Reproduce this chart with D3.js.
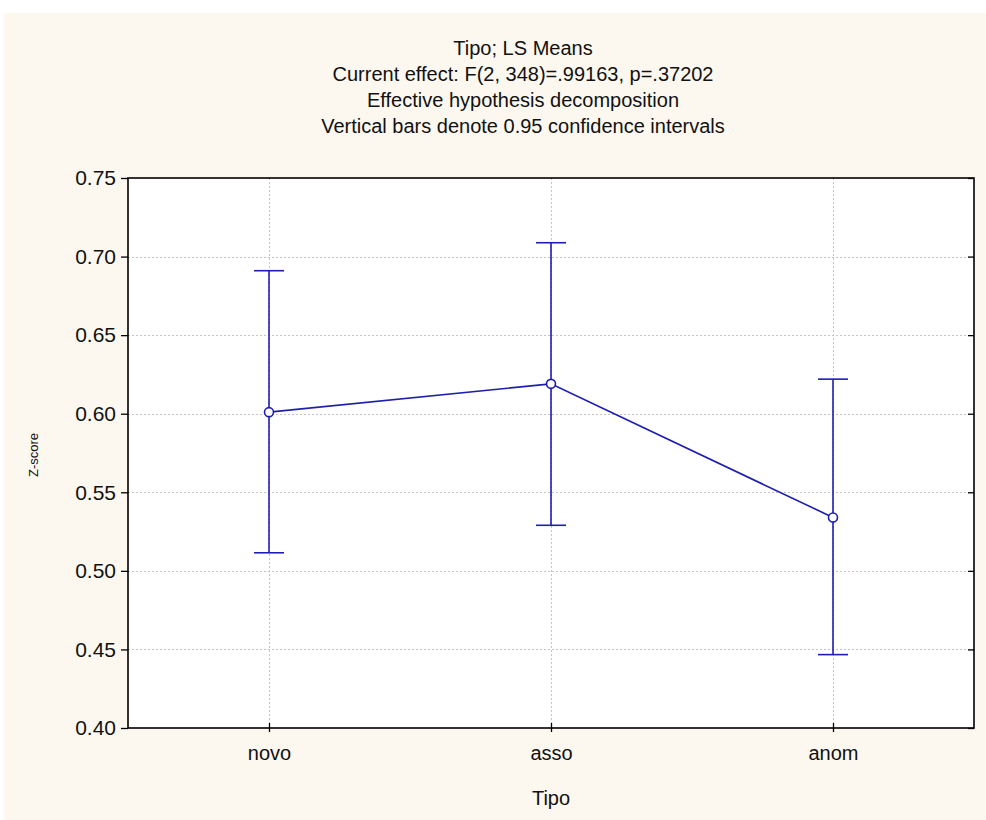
<!DOCTYPE html>
<html>
<head>
  <meta charset="utf-8">
  <script src="https://cdn.jsdelivr.net/npm/d3@7"></script>
  <style>
    body {margin:0; background:#fff;}
    text {font-family: Arial, "Liberation Sans", sans-serif; fill:#111;}
    .title text {font-size:20px;}
  </style>
</head>
<body>
<script>
const categories = ["novo", "asso", "anom"];
const means = [0.601, 0.619, 0.534];
const lower = [0.5115, 0.529, 0.4467];
const upper = [0.691, 0.7088, 0.622];
const yTicks = [0.40, 0.45, 0.50, 0.55, 0.60, 0.65, 0.70, 0.75];
const titleLines = [
  "Tipo; LS Means",
  "Current effect: F(2, 348)=.99163, p=.37202",
  "Effective hypothesis decomposition",
  "Vertical bars denote 0.95 confidence intervals"
];

const W = 986, H = 820;
const plot = {left: 128, right: 974, top: 178, bottom: 728};
const blue = "#1e1eb0";

const svg = d3.select("body").append("svg")
  .attr("width", W).attr("height", H);

svg.append("rect").attr("x", 4).attr("y", 13)
  .attr("width", W - 4).attr("height", H - 13)
  .attr("fill", "#fcf8f0");

const x = d3.scalePoint().domain(categories)
  .range([plot.left, plot.right]).padding(0.5);
const y = d3.scaleLinear().domain([0.40, 0.75])
  .range([plot.bottom, plot.top]);

svg.append("rect")
  .attr("x", plot.left).attr("y", plot.top)
  .attr("width", plot.right - plot.left).attr("height", plot.bottom - plot.top)
  .attr("fill", "#fff");

// title
svg.append("g").attr("class", "title").selectAll("text")
  .data(titleLines).join("text")
  .attr("x", 523).attr("y", (d, i) => 55 + i * 26)
  .attr("text-anchor", "middle")
  .text(d => d);

// grid
const grid = svg.append("g")
  .attr("stroke", "#c4c4c4").attr("stroke-dasharray", "2,2").attr("stroke-width", 1);
grid.selectAll("line.h").data(yTicks.slice(1, -1)).join("line")
  .attr("x1", plot.left).attr("x2", plot.right)
  .attr("y1", d => Math.round(y(d)) + 0.5).attr("y2", d => Math.round(y(d)) + 0.5);
grid.selectAll("line.v").data(categories).join("line")
  .attr("y1", plot.top).attr("y2", plot.bottom)
  .attr("x1", d => Math.round(x(d)) + 0.5).attr("x2", d => Math.round(x(d)) + 0.5);

// left axis
const yAxis = d3.axisLeft(y).tickValues(yTicks).tickFormat(d3.format(".2f"))
  .tickSize(7).tickPadding(5);
svg.append("g").attr("transform", `translate(${plot.left},0)`)
  .call(yAxis)
  .call(g => g.select(".domain").remove())
  .call(g => g.selectAll("line").attr("stroke", "#000").attr("stroke-width", 1.3))
  .call(g => g.selectAll("text").attr("font-size", 21).attr("fill", "#111"));

// right inward ticks
svg.append("g").attr("transform", `translate(${plot.right},0)`)
  .call(d3.axisLeft(y).tickValues(yTicks).tickSize(6).tickFormat(""))
  .call(g => g.select(".domain").remove())
  .call(g => g.selectAll("line").attr("stroke", "#000").attr("stroke-width", 1.3));

// bottom axis
svg.append("g").attr("transform", `translate(0,${plot.bottom})`)
  .call(d3.axisBottom(x).tickSize(4).tickPadding(14))
  .call(g => g.select(".domain").remove())
  .call(g => g.selectAll("line").attr("y1", -5).attr("stroke", "#000").attr("stroke-width", 1.3))
  .call(g => g.selectAll("text").attr("font-size", 20).attr("fill", "#111"));

// frame
svg.append("rect")
  .attr("x", plot.left).attr("y", plot.top)
  .attr("width", plot.right - plot.left).attr("height", plot.bottom - plot.top)
  .attr("fill", "none").attr("stroke", "#000").attr("stroke-width", 1.6);

// axis titles
svg.append("text").attr("x", (plot.left + plot.right) / 2).attr("y", 805)
  .attr("text-anchor", "middle").attr("font-size", 20).text("Tipo");
svg.append("text").attr("transform", "translate(38,455) rotate(-90)")
  .attr("text-anchor", "middle").attr("font-size", 13).text("Z-score");

// error bars
const data = categories.map((c, i) => ({c, m: means[i], lo: lower[i], hi: upper[i]}));
const eb = svg.append("g").attr("stroke", blue).attr("stroke-width", 1.6).attr("fill", "none");
eb.selectAll("line.stem").data(data).join("line")
  .attr("x1", d => x(d.c)).attr("x2", d => x(d.c))
  .attr("y1", d => y(d.lo)).attr("y2", d => y(d.hi));
eb.selectAll("line.capHi").data(data).join("line")
  .attr("x1", d => x(d.c) - 15).attr("x2", d => x(d.c) + 15)
  .attr("y1", d => y(d.hi)).attr("y2", d => y(d.hi));
eb.selectAll("line.capLo").data(data).join("line")
  .attr("x1", d => x(d.c) - 15).attr("x2", d => x(d.c) + 15)
  .attr("y1", d => y(d.lo)).attr("y2", d => y(d.lo));

// mean line
svg.append("path").datum(data)
  .attr("fill", "none").attr("stroke", blue).attr("stroke-width", 1.6)
  .attr("d", d3.line().x(d => x(d.c)).y(d => y(d.m)));

svg.append("g").selectAll("circle").data(data).join("circle")
  .attr("cx", d => x(d.c)).attr("cy", d => y(d.m)).attr("r", 4.5)
  .attr("fill", "#fff").attr("stroke", blue).attr("stroke-width", 1.6);
</script>
</body>
</html>
